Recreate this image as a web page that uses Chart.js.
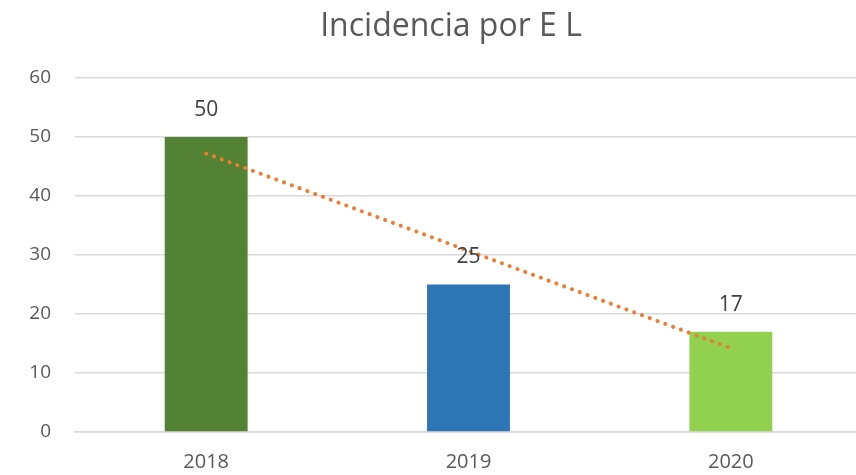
<!DOCTYPE html>
<html>
<head>
<meta charset="utf-8">
<script src="https://cdn.jsdelivr.net/npm/chart.js@4"></script>
<style>
  html, body { margin: 0; padding: 0; background: #fff; overflow: hidden; }
  #wrap { width: 862px; height: 475px; }
</style>
</head>
<body>
<div id="wrap"><canvas id="chart"></canvas></div>
<script>
// values
var years = ['2018', '2019', '2020'];
var incidencia = [50, 25, 17];
var barColors = ['#548235', '#2E75B6', '#92D050'];
var trend = [47.2, 30.7, 14.2];   // Excel linear trendline
var yTicks = [0, 10, 20, 30, 40, 50, 60];
var titleText = 'Incidencia por E L';

var font = '"Open Sans", "Liberation Sans", sans-serif';

// value labels over each bar + the title (Excel centres it over the whole chart box)
var barLabels = {
    id: 'barLabels',
    afterDatasetsDraw: function (chart) {
        var ctx = chart.ctx;
        var meta = chart.getDatasetMeta(1);
        ctx.save();
        ctx.font = '21px ' + font;
        ctx.fillStyle = '#404040';
        ctx.textAlign = 'center';
        ctx.textBaseline = 'middle';
        meta.data.forEach(function (bar, i) {
            ctx.fillText(incidencia[i], bar.x, bar.y - 27);
        });
        ctx.font = '32px ' + font;
        ctx.fillStyle = '#595959';
        ctx.fillText(titleText, 451, 27);
        ctx.restore();
    }
};

var ctx = document.getElementById('chart');
new Chart(ctx, {
    type: 'bar',
    data: {
        labels: years,
        datasets: [
            {
                type: 'line',
                label: 'Lineal',
                data: trend,
                borderColor: '#ED7D31',
                borderWidth: 4,
                borderDash: [0.1, 8.2],
                borderCapStyle: 'round',
                pointRadius: 0,
                fill: false,
                order: 0
            },
            {
                label: 'Incidencia',
                data: incidencia,
                backgroundColor: barColors,
                barPercentage: 0.316,
                categoryPercentage: 1,
                order: 1
            }
        ]
    },
    options: {
        responsive: true,
        maintainAspectRatio: false,
        animation: false,
        layout: { padding: { left: 0, right: 0, top: 78, bottom: 0 } },
        plugins: {
            legend: { display: false },
            tooltip: { enabled: false },
            title: { display: false }
        },
        scales: {
            x: {
                grid: { display: false, drawTicks: false },
                border: { color: '#d9d9d9', width: 1.5 },
                ticks: {
                    color: '#595959',
                    font: { family: font, size: 20 },
                    padding: 18
                },
                afterFit: function (scale) { scale.height = 43; }
            },
            y: {
                min: 0,
                max: 60,
                afterBuildTicks: function (scale) {
                    scale.ticks = yTicks.map(function (v) { return { value: v }; });
                },
                grid: { color: '#d9d9d9', lineWidth: 1.5, drawTicks: false },
                border: { display: false },
                ticks: {
                    color: '#595959',
                    font: { family: font, size: 19 },
                    padding: 24
                },
                afterFit: function (scale) { scale.width = 75; }
            }
        }
    },
    plugins: [barLabels]
});
</script>
</body>
</html>
